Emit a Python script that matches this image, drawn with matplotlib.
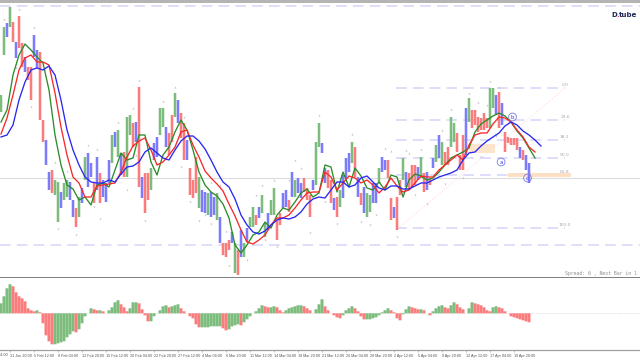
import numpy as np
import matplotlib
matplotlib.use("Agg")
import matplotlib.pyplot as plt
from matplotlib.patches import Rectangle

# bar kinds: G up, B down swing, R down
kinds = list(
    "GGBGRBRRBR" "RBBRRBBRGG" "BGGBBRGBGB" "BRBRBBBGBG" "BRGGRBRBRR"
    "GBBGGBRRGB" "RRBRRRGBBG" "BBGBRRRBGR" "BGBGGRBGGB" "GGRRBBRBGB"
    "BRRRBGGBBR" "RBRGBBBGRB" "RBGGBBGBBR" "RBRRGBRRRB" "GRBRBGBGRR"
    "GGRRRBGRRR" "RRRGGBRBRR" "RRRBRBB"
)
highs = [
    95, 27, 23, 7, 22, 42, 16, 43, 57, 67,
    67, 35, 50, 52, 120, 140, 172, 170, 180, 182,
    192, 183, 180, 182, 200, 208, 197, 188, 157, 153,
    163, 183, 157, 173, 180, 183, 160, 135, 132, 130,
    153, 152, 117, 115, 123, 122, 87, 177, 173, 173,
    168, 143, 137, 108, 108, 127, 133, 115, 93, 100,
    113, 123, 140, 168, 180, 157, 177, 190, 192, 193,
    192, 197, 193, 217, 243, 243, 240, 232, 243, 250,
    230, 243, 228, 217, 207, 215, 207, 195, 223, 213,
    200, 188, 220, 213, 193, 190, 200, 172, 180, 178,
    183, 178, 188, 195, 180, 142, 123, 143, 168, 170,
    180, 198, 197, 190, 175, 158, 153, 142, 147, 177,
    193, 187, 193, 195, 183, 183, 168, 157, 160, 160,
    198, 207, 197, 180, 158, 172, 173, 165, 165, 167,
    157, 173, 172, 178, 158, 145, 135, 142, 152, 147,
    117, 123, 133, 155, 135, 108, 98, 110, 110, 117,
    118, 113, 118, 88, 88, 95, 92, 103, 132, 137,
    138, 138, 138, 147, 150, 155, 163,
]
lows = [
    112, 55, 37, 27, 42, 58, 48, 67, 72, 80,
    100, 57, 68, 120, 142, 165, 190, 193, 195, 222,
    208, 200, 197, 200, 217, 227, 217, 203, 180, 187,
    177, 203, 190, 203, 197, 202, 183, 163, 147, 157,
    175, 177, 177, 135, 147, 142, 187, 198, 213, 200,
    190, 160, 157, 135, 127, 147, 155, 142, 117, 123,
    138, 160, 160, 195, 198, 193, 208, 212, 213, 215,
    217, 215, 220, 243, 255, 257, 250, 243, 273, 275,
    257, 257, 242, 227, 227, 225, 218, 213, 237, 230,
    215, 215, 240, 225, 208, 207, 212, 197, 197, 193,
    198, 192, 200, 217, 190, 185, 147, 153, 183, 188,
    203, 210, 217, 207, 198, 178, 172, 163, 177, 197,
    205, 213, 217, 212, 203, 203, 183, 172, 170, 178,
    220, 218, 230, 195, 180, 187, 190, 187, 185, 180,
    178, 192, 190, 185, 168, 162, 158, 165, 165, 165,
    147, 142, 152, 170, 170, 155, 122, 128, 125, 132,
    130, 130, 128, 128, 108, 115, 128, 125, 152, 143,
    145, 145, 150, 158, 160, 170, 183,
]

# moving averages, one reading every second bar
blue_ma = [
    137, 135, 125, 100, 82, 70, 68, 70, 66, 75, 100, 130, 150, 165, 177, 182,
    183, 183, 180, 182, 174, 167, 166, 162, 152, 148, 153, 158, 160, 150, 141,
    136, 136, 141, 149, 160, 172, 182, 187, 199, 215, 225, 232, 234, 231, 225,
    220, 218, 219, 217, 212, 204, 199, 197, 198, 190, 182, 182, 187, 185, 178,
    176, 182, 188, 190, 186, 186, 189, 189, 186, 183, 183, 180, 177, 175, 173,
    170, 160, 153, 152, 146, 141, 137, 133, 126, 122, 125, 131, 135, 140, 146,
]
red_ma = [
    134, 118, 95, 70, 58, 55, 62, 62, 65, 93, 127, 155, 177, 183, 197, 197,
    186, 185, 184, 183, 172, 157, 146, 141, 138, 150, 165, 162, 155, 147, 132,
    130, 145, 157, 171, 178, 184, 191, 204, 216, 230, 242, 244, 240, 235, 225,
    218, 218, 215, 208, 200, 193, 192, 192, 172, 177, 190, 183, 176, 178, 183,
    180, 185, 193, 187, 178, 186, 192, 190, 183, 176, 177, 177, 170, 165, 160,
    155, 160, 145, 135, 133, 133, 124, 117, 118, 122, 130, 137, 147, 152,
]
green_ma = [
    122, 110, 75, 55, 44, 50, 57, 63, 90, 135, 165, 185, 189, 200, 197, 205,
    185, 183, 187, 170, 153, 160, 158, 135, 135, 162, 175, 155, 147, 132, 120,
    130, 150, 172, 185, 192, 196, 204, 218, 245, 253, 245, 235, 232, 222, 228,
    215, 208, 210, 202, 193, 189, 197, 193, 165, 167, 192, 172, 187, 168, 176,
    188, 190, 182, 190, 175, 177, 197, 180, 174, 176, 180, 178, 172, 165, 158,
    155, 152, 148, 132, 124, 120, 116, 113, 116, 122, 131, 138, 148, 158,
]

# lower pane oscillator
osc = [
    10, 17, 25, 29, 27, 21, 17, 15, 12, 5,
    3, 2, 3, 1, -10, -22, -28, -31, -31, -30,
    -29, -28, -24, -21, -18, -19, -16, -10, -3, 0,
    5, 4, 3, 3, 2, 0, 3, 6, 11, 13,
    9, 6, 2, 5, 11, 11, 10, 4, -2, -8,
    -8, -3, 0, 3, 7, 8, 6, 7, 8, 9,
    5, 2, 0, -3, -5, -11, -14, -14, -14, -14,
    -13, -13, -13, -13, -15, -17, -16, -13, -12, -11,
    -12, -9, -6, -3, 0, 2, 5, 8, 7, 6,
    6, 7, 6, 3, 1, 3, 5, 6, 7, 8,
    8, 7, 5, 3, 0, 4, 9, 14, 7, 3,
    0, -2, -4, -5, -2, 3, 5, 7, 5, 2,
    -3, -6, -6, -6, -5, -4, -2, 1, 3, 5,
    3, 1, -5, -7, -1, 4, 7, 6, 5, 4,
    4, 3, 0, -2, 2, 5, 7, 8, 6, 5,
    8, 11, 9, 6, 4, 0, 5, 11, 10, 9,
    8, 6, 3, 2, 6, 7, 6, 5, 2, 0,
    -3, -4, -5, -6, -7, -8, -9,
]

# swing markers: bar number, level
up_marks = [
    (1, 19), (6, 9), (11, 27), (46, 80), (44, 108), (39, 122), (54, 101), (58, 87),
    (61, 117), (29, 145), (32, 149), (18, 162), (22, 171), (45, 155), (56, 153),
    (70, 182), (73, 185), (75, 231), (77, 233), (81, 221), (85, 195), (87, 185),
    (91, 180), (96, 180), (98, 160), (100, 168), (106, 115), (117, 134), (128, 148),
    (130, 151), (135, 150), (136, 153), (140, 149), (147, 130), (150, 109), (156, 93),
    (159, 102), (162, 105), (163, 81), (166, 87),
]
down_marks = [
    (19, 229), (25, 235), (10, 107), (5, 68), (31, 207), (33, 219), (42, 190), (48, 221),
    (60, 167), (63, 202), (66, 221), (68, 215), (70, 224), (76, 266), (82, 260), (88, 240),
    (92, 247), (103, 233), (108, 202), (112, 224), (120, 222), (123, 225), (125, 215),
    (132, 237), (138, 195), (142, 204), (148, 184), (154, 178), (160, 157), (165, 136),
]

fib_levels = [88, 120, 140, 158, 175, 228]
fib_names = ["0.0", "23.6", "38.2", "50.0", "61.8", "100.0"]
long_levels = [6, 245]
grey_level = 178
wave_labels = [("b", 170.5, 117), ("a", 166.7, 162), ("c", 175.5, 178)]

tick_labels = [
    "29 Jan 04:00", "31 Jan 20:00", "5 Feb 12:00", "8 Feb 04:00", "12 Feb 20:00",
    "15 Feb 12:00", "20 Feb 04:00", "22 Feb 20:00", "27 Feb 12:00", "4 Mar 04:00",
    "6 Mar 20:00", "11 Mar 12:00", "14 Mar 04:00", "18 Mar 20:00", "21 Mar 12:00",
    "26 Mar 04:00", "28 Mar 20:00", "2 Apr 12:00", "5 Apr 04:00", "9 Apr 20:00",
    "12 Apr 12:00", "17 Apr 04:00", "19 Apr 20:00",
]

W, H = 640, 360
PER_BAR = 3.0
colors = {"G": "#7cbc7c", "B": "#7c7cfa", "R": "#fb7c7c"}


def main():
    fig = plt.figure(figsize=(W / 100, H / 100), dpi=100, facecolor="white")

    def pane(y0, y1):
        return fig.add_axes([0, 1 - y1 / H, 1, (y1 - y0) / H])

    ax = pane(3, 277)
    xlim = (-1 / PER_BAR, (W - 1) / PER_BAR)
    ax.set_xlim(xlim)
    ax.set_ylim(277, 3)
    ax.axis("off")

    # levels
    ax.axhline(grey_level, color="#dcdcdc", lw=0.8, zorder=1)
    for y in long_levels:
        ax.axhline(y, color="#d6d6fb", lw=1.1, dashes=(7, 4), zorder=1)
    for y, name in zip(fib_levels, fib_names):
        ax.plot([131.5, 188], [y, y], color="#d4d4fa", lw=1.1, dashes=(7, 4), zorder=1)
        ax.text(188, y - 1, name, fontsize=3.2, color="#a8a8a8", ha="center", va="bottom")
    ax.plot([132.5, 188], [228, 88], color="#ffd8d8", lw=0.7, ls=":", zorder=1)

    ax.add_patch(Rectangle((156, 144), 8.7, 9, color="#fde4cc", lw=0, zorder=1))
    ax.add_patch(Rectangle((169, 173), 21, 4, color="#fde0c4", lw=0, zorder=1))

    # bars
    bars = np.arange(len(highs))
    hi = np.array(highs)
    lo = np.array(lows)
    bar_colors = [colors[k] for k in kinds]
    candles = ax.bar(bars, lo - hi, bottom=hi, width=0.85, color=bar_colors, lw=0, zorder=2)
    for c in candles:
        c.set_snap(False)

    # swing markers
    ux, uy = zip(*up_marks)
    dx, dy = zip(*down_marks)
    ax.scatter(ux, uy, marker="^", s=2.2, color="#c4c4c4", lw=0, zorder=2)
    ax.scatter(dx, dy, marker="v", s=2.2, color="#c4c4c4", lw=0, zorder=2)

    # moving averages
    ax.plot(np.arange(len(blue_ma)) * 2, blue_ma, color="#2828f0", lw=0.95, zorder=5)
    ax.plot(np.arange(len(red_ma)) * 2, red_ma, color="#f52a2a", lw=0.95, zorder=4)
    ax.plot(np.arange(len(green_ma)) * 2, green_ma, color="#2a8c2a", lw=0.95, zorder=3)

    for name, x, y in wave_labels:
        ax.text(x, y, name, fontsize=4, color="#3a3ae0", ha="center", va="center", zorder=6,
                bbox=dict(boxstyle="circle,pad=0.25", fc="none", ec="#7878ee", lw=0.6))

    # lower pane
    sub = pane(279, 350)
    values = np.array(osc)
    rising = np.diff(values, prepend=values[0] - 1) >= 0
    hist = sub.bar(np.arange(len(osc)), values, width=1.0, lw=0,
                   color=[colors["G"] if r else colors["R"] for r in rising])
    for h in hist:
        h.set_snap(False)
    sub.axhline(0, color="#c8c8c8", lw=0.5, ls=":", zorder=0)
    sub.set_yticks([])
    for side in ["left", "right", "top"]:
        sub.spines[side].set_visible(False)
    sub.spines["bottom"].set_color("#a0a0a0")
    sub.spines["bottom"].set_linewidth(0.9)
    sub.set_xticks(-5 + 8 * np.arange(len(tick_labels)))
    sub.set_xticklabels(tick_labels, fontsize=2.7, family="Liberation Sans",
                        color="#555555", ha="left")
    sub.tick_params(axis="x", length=1.5, width=0.4, color="#888888", pad=1.5)
    sub.set_xlim(xlim)
    sub.set_ylim(-36.7, 34.3)
    sub.patch.set_alpha(0)

    # first date label starts left of the window
    fig.text(-14 / W, 1 - 355 / H, tick_labels[0], fontsize=2.7, family="Liberation Sans",
             color="#555555", va="center")

    # window chrome
    fig.add_artist(Rectangle((0, 1 - 2.5 / H), 1, 2.5 / H, color="#b4b4b4", lw=0,
                             transform=fig.transFigure))
    fig.add_artist(Rectangle((0, 1 - 278 / H), 1, 1.5 / H, color="#808080", lw=0,
                             transform=fig.transFigure))

    fig.text(565 / W, 1 - 274 / H, "Spread: 6 , Next Bar in 1", family="DejaVu Sans Mono",
             fontsize=3.5, color="#909090", va="center")

    # logo
    fig.text(611 / W, 1 - 15 / H, "D", fontsize=5, fontweight="bold", color="#1f2a55", va="center")
    fig.text(616.3 / W, 1 - 15 / H, ".", fontsize=5, fontweight="bold", color="#e03040", va="center")
    fig.text(618.9 / W, 1 - 15 / H, "tube", fontsize=5, fontweight="bold", color="#1f2a55", va="center")

    fig.savefig("out.png", dpi=100)


if __name__ == "__main__":
    main()
